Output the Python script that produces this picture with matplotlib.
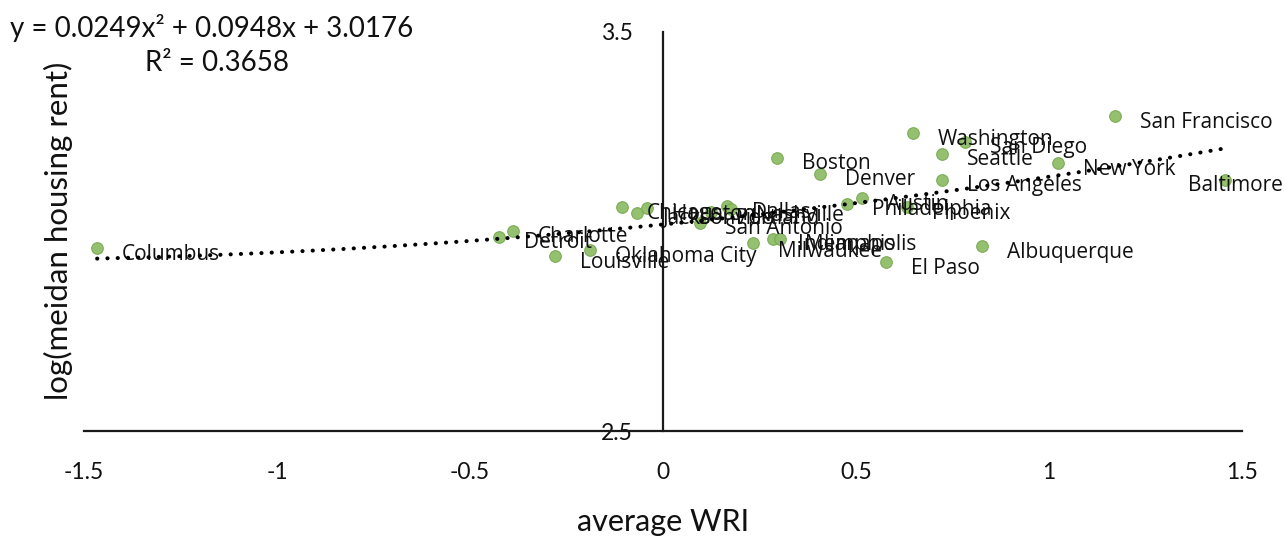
import matplotlib.pyplot as plt
import numpy as np

# city-level WRI vs log median rent
cities = [
    "Columbus", "Detroit", "Charlotte", "Louisville", "Oklahoma City",
    "Chicago", "Jacksonville", "Houston", "San Antonio", "Portland",
    "Dallas", "Nashville", "Milwaukee", "Indianapolis", "Memphis",
    "Boston", "Denver", "Philadelphia", "Austin", "El Paso",
    "Phoenix", "Washington", "Seattle", "Los Angeles", "San Diego",
    "Albuquerque", "New York", "San Francisco", "Baltimore",
]
wri = [
    -1.466, -0.425, -0.389, -0.280, -0.189,
    -0.106, -0.067, -0.041, 0.096, 0.124,
    0.166, 0.176, 0.233, 0.285, 0.303,
    0.295, 0.407, 0.477, 0.516, 0.578,
    0.632, 0.648, 0.723, 0.723, 0.782,
    0.826, 1.023, 1.171, 1.456,
]
log_rent = [
    2.959, 2.987, 3.002, 2.939, 2.954,
    3.062, 3.047, 3.059, 3.022, 3.049,
    3.064, 3.057, 2.972, 2.982, 2.982,
    3.185, 3.145, 3.070, 3.084, 2.924,
    3.062, 3.247, 3.195, 3.130, 3.225,
    2.964, 3.172, 3.290, 3.130,
]

# polynomial trendline, order 2
trend_coef = [0.0249, 0.0948, 3.0176]
r_squared = 0.3658

x_ticks = [-1.5, -1, -0.5, 0, 0.5, 1, 1.5]
x_tick_labels = ["-1.5", "-1", "-0.5", "0", "0.5", "1", "1.5"]
y_ticks = [2.5, 3.5]
y_tick_labels = ["2.5", "3.5"]

W, H = 1284, 542
fig = plt.figure(figsize=(W / 100, H / 100), dpi=100)
ax = fig.add_axes([84 / W, 1 - 431 / H, 1158 / W, 399 / H])

ax.set_xlim(-1.5, 1.5)
ax.set_ylim(2.5, 3.5)

ax.scatter(wri, log_rent, s=70, color="#8fbd68", edgecolor="#7aaa55",
           linewidth=0.8, alpha=0.95, zorder=2, clip_on=False)

tx = np.linspace(min(wri), max(wri), 300)
ax.plot(tx, np.polyval(trend_coef, tx), color="black", lw=2.9,
        linestyle=(0, (0.05, 2.5)), dash_capstyle="round", zorder=4)

label_shift = {"Baltimore": (-26.5, -4.5), "Milwaukee": (18, -6.5)}
for name, x, y in zip(cities, wri, log_rent):
    dx, dy = label_shift.get(name, (18, -4.5))
    ax.annotate(name, (x, y), xytext=(dx, dy), textcoords="offset points",
                ha="left", va="center", fontsize=15, family="Open Sans",
                color="#111111", zorder=3, annotation_clip=False)

for side in ("top", "right"):
    ax.spines[side].set_visible(False)
ax.spines["left"].set_position(("data", 0))
for side in ("left", "bottom"):
    ax.spines[side].set_linewidth(1.6)
    ax.spines[side].set_color("#1a1a1a")

ax.set_xticks(x_ticks, x_tick_labels)
ax.set_yticks(y_ticks, y_tick_labels)
ax.tick_params(axis="both", length=0, labelsize=16.5, labelcolor="#111111")
ax.tick_params(axis="x", pad=22)
ax.tick_params(axis="y", pad=22)
for lab in ax.get_xticklabels() + ax.get_yticklabels():
    lab.set_family("Lato")

fig.text(663 / W, 1 - 522 / H, "average WRI", ha="center", va="center",
         fontsize=22, family="Lato", color="#111111")
fig.text(58 / W, 1 - 231 / H, "log(meidan housing rent)", rotation=90,
         ha="center", va="center", fontsize=22.5, family="Lato", color="#111111")

eq = f"y = {trend_coef[0]}x\u00b2 + {trend_coef[1]}x + {trend_coef[2]}"
fig.text(10 / W, 1 - 28 / H, eq, ha="left", va="center",
         fontsize=20, family="Lato", color="#111111")
fig.text(145 / W, 1 - 63 / H, f"R\u00b2 = {r_squared}", ha="left", va="center",
         fontsize=20, family="Lato", color="#111111")

fig.savefig("out.png", dpi=100)
